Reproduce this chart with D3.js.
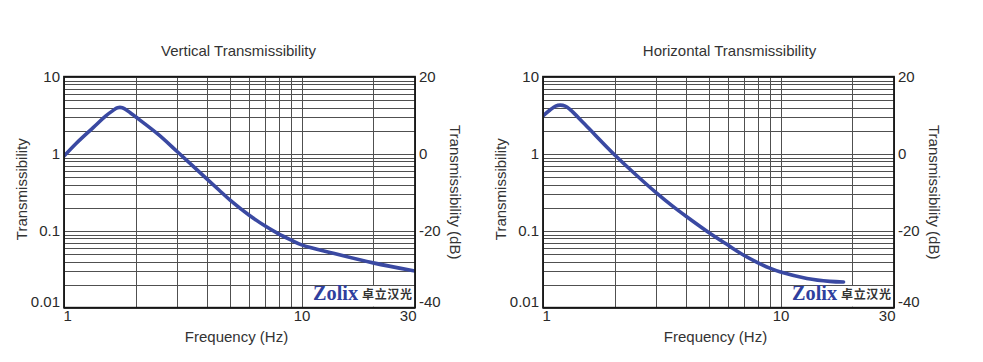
<!DOCTYPE html>
<html lang="en">
  <head>
    <meta charset="UTF-8" />
    <style>
      body {
        margin: 0;
        background: #fff;
      }
      svg {
        font-family: "Liberation Sans", Arial, Helvetica, sans-serif;
      }
      .grid line {
        stroke: #505050;
        stroke-width: 1;
        shape-rendering: crispEdges;
      }
      .frame {
        fill: none;
        stroke: #151515;
        stroke-width: 1.8;
      }
      .curve {
        fill: none;
        stroke: #3a49a2;
        stroke-width: 3.6;
        stroke-linejoin: round;
        stroke-linecap: round;
      }
      .label {
        fill: #333;
        font-size: 15px;
      }
    </style>
    <script src="https://d3js.org/d3.v7.min.js"></script>
    <title>Transmissibility</title>
  </head>
  <body>
    <script>
      // tick labels
      var freqTicks = [1, 10, 30];
      var transTicks = [0.01, 0.1, 1, 10];
      var dbTicks = [-40, -20, 0, 20];

      // vertical transmissibility
      var vertFreq = [1, 1.13, 1.33, 1.5, 1.6, 1.68, 1.76, 1.9, 2, 2.5, 3, 3.5, 4, 4.5, 5, 6, 7, 8, 9, 10, 13.6, 20, 30];
      var vertTrans = [0.93, 1.38, 2.2, 3.1, 3.6, 3.95, 3.95, 3.4, 3.02, 1.77, 1.06, 0.684, 0.468, 0.335, 0.25, 0.16, 0.1156, 0.091, 0.0759, 0.0654, 0.0508, 0.0382, 0.0299];

      // horizontal transmissibility
      var horizFreq = [1, 1.07, 1.13, 1.18, 1.24, 1.3, 1.5, 2, 2.5, 3, 3.5, 4, 5, 6, 7, 8, 9, 10, 12.9, 16.1, 18.4];
      var horizTrans = [3.09, 3.69, 4.15, 4.28, 4.15, 3.75, 2.41, 0.97, 0.51, 0.31, 0.21, 0.154, 0.094, 0.065, 0.048, 0.0385, 0.0326, 0.029, 0.024, 0.022, 0.0216];

      var titles = ["Vertical Transmissibility", "Horizontal Transmissibility"];

      var W = 983,
        H = 362;
      var plotW = 351,
        plotH = 231;
      var panels = [
        { left: 64, top: 76.7, title: titles[0], titleDx: -1, freq: vertFreq, trans: vertTrans },
        { left: 543, top: 76.7, title: titles[1], titleDx: 11, freq: horizFreq, trans: horizTrans },
      ];

      var svg = d3
        .select("body")
        .append("svg")
        .attr("width", W)
        .attr("height", H);

      svg.append("rect").attr("width", W).attr("height", H).attr("fill", "#fff");

      panels.forEach(function (p, i) {
        var g = svg
          .append("g")
          .attr("transform", "translate(" + p.left + "," + p.top + ")");

        var x = d3.scaleLog().domain([1, 30]).range([0, plotW]);
        var y = d3.scaleLog().domain([0.01, 10]).range([plotH, 0]);
        var db = d3.scaleLinear().domain([-40, 20]).range([plotH, 0]);

        // grid
        var grid = g.append("g").attr("class", "grid");
        grid
          .selectAll(".v")
          .data(x.ticks())
          .enter()
          .append("line")
          .attr("x1", (d) => Math.round(x(d)) + 0.5)
          .attr("x2", (d) => Math.round(x(d)) + 0.5)
          .attr("y1", 0)
          .attr("y2", plotH);
        grid
          .selectAll(".h")
          .data(y.ticks())
          .enter()
          .append("line")
          .attr("x1", 0)
          .attr("x2", plotW)
          .attr("y1", (d) => Math.round(y(d)) + 0.5)
          .attr("y2", (d) => Math.round(y(d)) + 0.5);

        var clipId = "clip" + i;
        g.append("clipPath")
          .attr("id", clipId)
          .append("rect")
          .attr("width", plotW)
          .attr("height", plotH);

        var line = d3
          .line()
          .x((d) => x(d[0]))
          .y((d) => y(d[1]))
          .curve(d3.curveCatmullRom.alpha(0.5));

        g.append("path")
          .attr("class", "curve")
          .attr("clip-path", "url(#" + clipId + ")")
          .attr("d", line(d3.zip(p.freq, p.trans)));

        // logo with white patch
        var logo = g.append("g");
        logo
          .append("rect")
          .attr("x", plotW - 107)
          .attr("y", y(0.02) + 1.5)
          .attr("width", 106)
          .attr("height", plotH - y(0.02) - 2.5)
          .attr("fill", "#fff");
        logo
          .append("text")
          .attr("x", plotW - 102)
          .attr("y", y(0.01) - 7.5)
          .attr("font-family", '"Liberation Serif", "DejaVu Serif", serif')
          .attr("font-weight", "bold")
          .attr("font-size", 20)
          .attr("fill", "#2f3f9e")
          .attr("textLength", 45)
          .attr("lengthAdjust", "spacingAndGlyphs")
          .text("Zolix");
        logo
          .append("text")
          .attr("x", plotW - 53)
          .attr("y", y(0.01) - 8.5)
          .attr("font-family", '"Noto Sans CJK SC", sans-serif')
          .attr("font-weight", "bold")
          .attr("font-size", 12)
          .attr("fill", "#333")
          .attr("textLength", 50)
          .attr("lengthAdjust", "spacing")
          .text("卓立汉光");

        g.append("rect").attr("class", "frame").attr("width", plotW).attr("height", plotH);

        // axes
        var ax = g
          .append("g")
          .call(
            d3.axisLeft(y).tickValues(transTicks).tickFormat(d3.format("~g")).tickSize(0).tickPadding(4)
          );
        var ar = g
          .append("g")
          .attr("transform", "translate(" + plotW + ",0)")
          .call(
            d3.axisRight(db).tickValues(dbTicks).tickFormat((d) => String(d)).tickSize(0).tickPadding(4)
          );
        var ab = g
          .append("g")
          .attr("transform", "translate(0," + plotH + ")")
          .call(
            d3.axisBottom(x).tickValues(freqTicks).tickFormat(d3.format("~g")).tickSize(0).tickPadding(3)
          );
        [ax, ar, ab].forEach(function (a) {
          a.select(".domain").remove();
          a.attr("font-size", 15).attr("font-family", null);
          a.selectAll("text").attr("fill", "#2a2a2a");
        });
        ax.selectAll("text").filter((d) => d === 0.01).attr("dy", "-0.06em");
        ar.selectAll("text").filter((d) => d === -40).attr("dy", "-0.06em");
        ab.selectAll("text")
          .filter((d) => d === 1)
          .attr("text-anchor", "start")
          .attr("dx", -1);
        ab.selectAll("text")
          .filter((d) => d === 30)
          .attr("text-anchor", "end")
          .attr("dx", 1);

        // titles and axis names
        g.append("text")
          .attr("class", "label")
          .attr("x", plotW / 2 + p.titleDx)
          .attr("y", -21)
          .attr("text-anchor", "middle")
          .text(p.title);
        g.append("text")
          .attr("class", "label")
          .attr("x", plotW / 2 - 3)
          .attr("y", plotH + 34.5)
          .attr("text-anchor", "middle")
          .text("Frequency (Hz)");
        g.append("text")
          .attr("class", "label")
          .attr("transform", "translate(-37," + (plotH / 2 - 3) + ") rotate(-90)")
          .attr("text-anchor", "middle")
          .text("Transmissibility");
        g.append("text")
          .attr("class", "label")
          .attr("transform", "translate(" + (plotW + 35) + "," + (plotH / 2) + ") rotate(90)")
          .attr("text-anchor", "middle")
          .text("Transmissibility (dB)");
      });
    </script>
  </body>
</html>
